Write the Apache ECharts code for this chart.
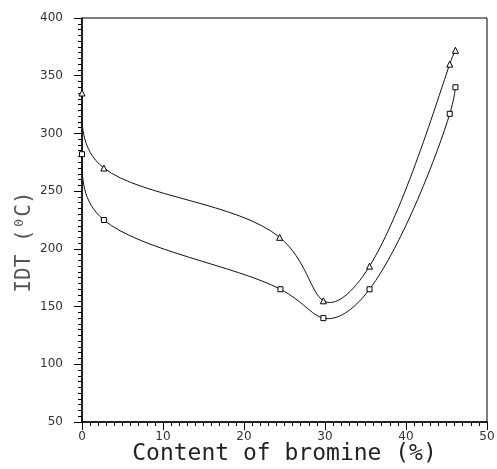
<!DOCTYPE html>
<html>
<head>
<meta charset="utf-8">
<script src="https://cdn.jsdelivr.net/npm/echarts@6/dist/echarts.min.js"></script>
<style>html,body{margin:0;padding:0;background:#fff}#c{width:497px;height:469px}</style>
</head>
<body>
<div id="c"></div>
<script>
const bromineTri = [0, 2.7, 24.4, 29.8, 35.5, 45.4, 46.1];
const idtTri = [335, 270, 210, 155, 185, 360, 372];
const bromineSq = [0, 2.7, 24.5, 29.8, 35.5, 45.4, 46.1];
const idtSq = [282, 225, 165, 140, 165, 317, 340];
const xTitle = 'Content of bromine (%)';
const yTitle = 'IDT (\u2070C)';

// natural cubic spline: first derivatives at the knots of v(t)
function splineSlopes(ts, vs) {
  const n = ts.length;
  const h = [];
  for (let i = 0; i < n - 1; i++) h.push(ts[i + 1] - ts[i]);
  const M = new Array(n).fill(0);
  const m = n - 2;
  if (m > 0) {
    const a = [], b = [], c = [], d = [];
    for (let i = 1; i <= m; i++) {
      a.push(h[i - 1]);
      b.push(2 * (h[i - 1] + h[i]));
      c.push(h[i]);
      d.push(6 * ((vs[i + 1] - vs[i]) / h[i] - (vs[i] - vs[i - 1]) / h[i - 1]));
    }
    for (let i = 1; i < m; i++) {
      const w = a[i] / b[i - 1];
      b[i] -= w * c[i - 1];
      d[i] -= w * d[i - 1];
    }
    const sol = new Array(m);
    sol[m - 1] = d[m - 1] / b[m - 1];
    for (let i = m - 2; i >= 0; i--) sol[i] = (d[i] - c[i] * sol[i + 1]) / b[i];
    for (let i = 0; i < m; i++) M[i + 1] = sol[i];
  }
  const s = [];
  for (let i = 0; i < n - 1; i++) {
    s.push((vs[i + 1] - vs[i]) / h[i] - h[i] * (2 * M[i] + M[i + 1]) / 6);
  }
  const k = n - 1;
  s.push((vs[k] - vs[k - 1]) / h[k - 1] + h[k - 1] * (M[k - 1] + 2 * M[k]) / 6);
  return s;
}

// parametric (centripetal) spline through the points, in screen space
function curveRenderer(xs, ys) {
  return function (params, api) {
    if (params.dataIndex !== 0) return null;
    const P = xs.map((x, i) => api.coord([x, ys[i]]));
    const ts = [0];
    for (let i = 1; i < P.length; i++) {
      ts.push(ts[i - 1] + Math.sqrt(Math.hypot(P[i][0] - P[i - 1][0], P[i][1] - P[i - 1][1])));
    }
    const sx = splineSlopes(ts, P.map(p => p[0]));
    const sy = splineSlopes(ts, P.map(p => p[1]));
    const children = [];
    for (let i = 0; i < P.length - 1; i++) {
      const hh = (ts[i + 1] - ts[i]) / 3;
      children.push({
        type: 'bezierCurve',
        shape: {
          x1: P[i][0], y1: P[i][1],
          cpx1: P[i][0] + sx[i] * hh, cpy1: P[i][1] + sy[i] * hh,
          cpx2: P[i + 1][0] - sx[i + 1] * hh, cpy2: P[i + 1][1] - sy[i + 1] * hh,
          x2: P[i + 1][0], y2: P[i + 1][1]
        },
        style: {stroke: '#111', lineWidth: 1, fill: 'none'}
      });
    }
    return {type: 'group', children: children};
  };
}

const chart = echarts.init(document.getElementById('c'), null, {renderer: 'canvas'});
const font = 'DejaVu Sans';
const mono = 'DejaVu Sans Mono';
const pairs = (xs, ys) => xs.map((x, i) => [x, ys[i]]);
chart.setOption({
  animation: false,
  backgroundColor: '#fff',
  grid: {left: 82, right: 10, top: 18, bottom: 47, show: true, borderColor: '#000', borderWidth: 1,
         outerBoundsMode: 'none', containLabel: false},
  xAxis: {
    type: 'value', min: 0, max: 50, interval: 10,
    name: xTitle, nameLocation: 'middle', nameGap: 21, nameMoveOverlap: false,
    nameTextStyle: {fontFamily: mono, fontSize: 23, color: '#222'},
    axisLine: {lineStyle: {color: '#000', width: 1.5}},
    axisTick: {show: true, length: 8, inside: false, lineStyle: {color: '#000'}},
    minorTick: {show: true, splitNumber: 10, length: 4, lineStyle: {color: '#000'}},
    axisLabel: {fontFamily: font, fontSize: 12, color: '#333', margin: 9},
    splitLine: {show: false}
  },
  yAxis: {
    type: 'value', min: 50, max: 400, interval: 50,
    name: yTitle, nameLocation: 'middle', nameGap: 47, nameRotate: 90, nameMoveOverlap: false,
    nameTextStyle: {fontFamily: mono, fontSize: 21, color: '#555', padding: [0, 44, 0, 0]},
    axisLine: {show: true, lineStyle: {color: '#000', width: 1.5}},
    axisTick: {show: true, length: 8, inside: false, lineStyle: {color: '#000'}},
    minorTick: {show: true, splitNumber: 10, length: 4, lineStyle: {color: '#000'}},
    axisLabel: {fontFamily: font, fontSize: 12, color: '#333', margin: 19},
    splitLine: {show: false}
  },
  series: [
    {type: 'custom', data: pairs(bromineTri, idtTri), renderItem: curveRenderer(bromineTri, idtTri), z: 2, silent: true},
    {type: 'custom', data: pairs(bromineSq, idtSq), renderItem: curveRenderer(bromineSq, idtSq), z: 2, silent: true},
    {type: 'scatter', data: pairs(bromineTri, idtTri), z: 3,
     symbol: 'triangle', symbolSize: 6,
     itemStyle: {color: '#fff', borderColor: '#000', borderWidth: 1, opacity: 1}},
    {type: 'scatter', data: pairs(bromineSq, idtSq), z: 3,
     symbol: 'rect', symbolSize: 5,
     itemStyle: {color: '#fff', borderColor: '#000', borderWidth: 1, opacity: 1}}
  ]
});
</script>
</body>
</html>
